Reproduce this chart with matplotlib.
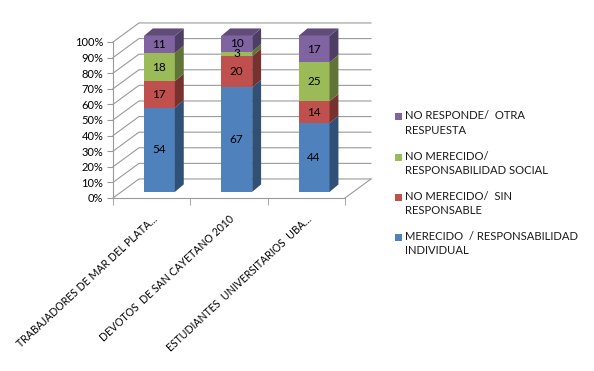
import numpy as np
import matplotlib
matplotlib.use("Agg")
import matplotlib.pyplot as plt
from matplotlib.patches import Polygon, Rectangle

plt.rcParams["font.family"] = ["Lato", "DejaVu Sans"]

CATEGORIES = ["TRABAJADORES DE MAR DEL PLATA...", "DEVOTOS  DE SAN CAYETANO 2010", "ESTUDIANTES  UNIVERSITARIOS  UBA..."]
SERIES = ["MERECIDO  / RESPONSABILIDAD\nINDIVIDUAL",
          "NO MERECIDO/  SIN\nRESPONSABLE",
          "NO MERECIDO/\nRESPONSABILIDAD SOCIAL",
          "NO RESPONDE/  OTRA\nRESPUESTA"]
merecido = [54, 67, 44]
sin_resp = [17, 20, 14]
resp_social = [18, 3, 25]
no_responde = [11, 10, 17]
COLORS = ["#4F81BD", "#C0504D", "#9BBB59", "#8064A2"]


def shade(hex_color, f):
    rgb = np.array(matplotlib.colors.to_rgb(hex_color)) * f
    return tuple(np.clip(rgb, 0, 1))


# pseudo 3d depth, in data units (x per category, y in %)
WALL_DX, WALL_DY = 0.336, 12.2
FACE_DX, FACE_DY = 0.10, 3.9
BAR_DX, BAR_DY = 0.115, 4.8
WIDTH = 0.40
GRID = "#9A9A9A"

fig = plt.figure(figsize=(5.94, 3.71), dpi=100)
ax = fig.add_axes([113 / 594, 173 / 371, 232 / 594, 156 / 371])
ax.set_xlim(-0.5, 2.5)
ax.set_ylim(0, 100)

# walls: back wall + left wall gridlines, floor
for v in range(0, 101, 10):
    ax.plot([-0.5, -0.5 + WALL_DX, 2.5 + WALL_DX], [v, v + WALL_DY, v + WALL_DY],
            color=GRID, lw=0.8, clip_on=False, zorder=1)
ax.plot([2.5, 2.5 + WALL_DX], [0, WALL_DY], color=GRID, lw=0.8, clip_on=False, zorder=1)

data = np.array([merecido, sin_resp, resp_social, no_responde], dtype=float)
x = np.arange(len(CATEGORIES))
bottoms = np.zeros(len(CATEGORIES))
for j, vals in enumerate(data):
    col = COLORS[j]
    ax.bar(x + FACE_DX, vals, bottom=bottoms + FACE_DY, width=WIDTH, color=col,
           edgecolor="none", zorder=3, clip_on=False)
    for i in range(len(x)):
        xr = x[i] + FACE_DX + WIDTH / 2
        b = bottoms[i] + FACE_DY
        t = b + vals[i]
        side = Polygon([(xr, b), (xr, t), (xr + BAR_DX, t + BAR_DY), (xr + BAR_DX, b + BAR_DY)],
                       closed=True, facecolor=shade(col, 0.62), edgecolor="none",
                       zorder=3, clip_on=False)
        ax.add_patch(side)
        if j == len(data) - 1:
            xl = xr - WIDTH
            top = Polygon([(xl, t), (xr, t), (xr + BAR_DX, t + BAR_DY), (xl + BAR_DX, t + BAR_DY)],
                          closed=True, facecolor=shade(col, 0.75), edgecolor="none",
                          zorder=3, clip_on=False)
            ax.add_patch(top)
        ax.text(x[i] + FACE_DX, b + vals[i] / 2, f"{int(vals[i])}", ha="center", va="center",
                fontsize=8.5, color="black", zorder=4)
    bottoms += vals

# axes
for s in ["top", "right"]:
    ax.spines[s].set_visible(False)
ax.spines["left"].set_color(GRID)
ax.spines["bottom"].set_color(GRID)
ax.spines["left"].set_linewidth(0.8)
ax.spines["bottom"].set_linewidth(0.8)
ax.set_yticks(range(0, 101, 10))
ax.set_yticklabels([f"{v}%" for v in range(0, 101, 10)], fontsize=8)
ax.tick_params(axis="y", length=4, color=GRID, pad=3)
ax.set_xticks([-0.5, 0.5, 1.5, 2.5], minor=True)
ax.tick_params(axis="x", which="minor", length=5, color=GRID)
ax.set_xticks(x)
ax.set_xticklabels(CATEGORIES, rotation=43, ha="right", rotation_mode="anchor", fontsize=7.6)
ax.tick_params(axis="x", which="major", length=0, pad=11)
ax.patch.set_visible(False)

# legend
for k, j in enumerate(range(len(SERIES) - 1, -1, -1)):
    yc = 117 + 40 * k
    fig.add_artist(Rectangle((395 / 594, 1 - (yc + 3.5) / 371), 7 / 594, 7 / 371,
                             transform=fig.transFigure, facecolor=COLORS[j], edgecolor="none"))
    fig.text(405 / 594, 1 - (yc - 6.5) / 371, SERIES[j], ha="left", va="top",
             fontsize=8.1, linespacing=1.4, color="#1a1a1a")

fig.savefig("out.png", dpi=100)
